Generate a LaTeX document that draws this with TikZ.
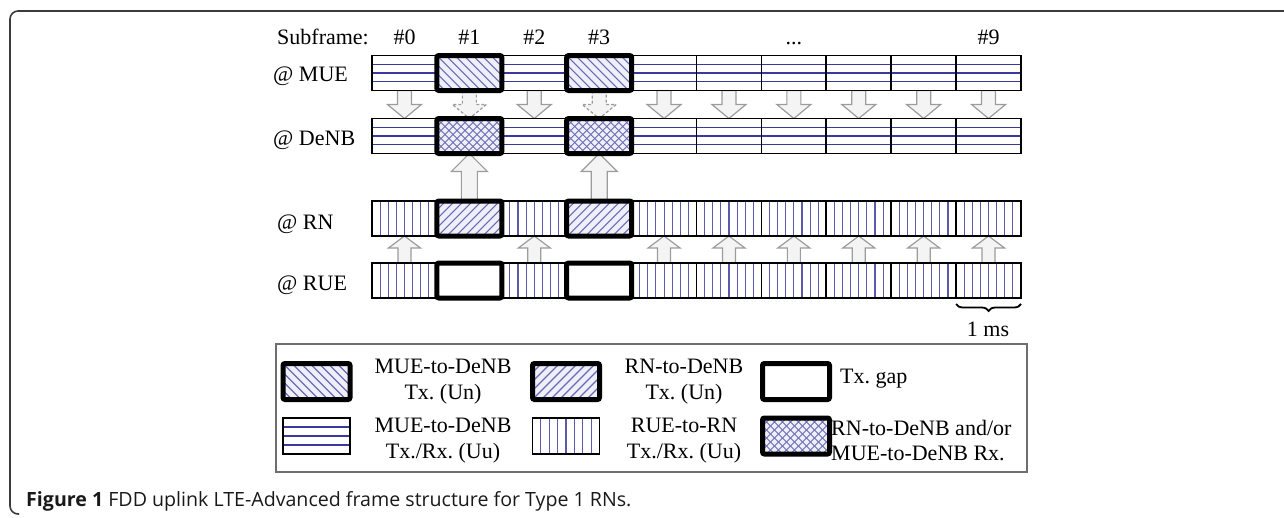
\documentclass[tikz,border=0pt]{standalone}
\usepackage{fontspec}
\setmainfont{Liberation Serif}
\newfontfamily\capfont{Open Sans}
\usetikzlibrary{calc,decorations.pathreplacing}
\frenchspacing
\pgfdeclarelayer{background}
\pgfsetlayers{background,main}
\definecolor{hatchc}{HTML}{6A6AB4}
\definecolor{linec}{HTML}{3A3A9E}
\definecolor{vlinec}{HTML}{5A5AAE}
\definecolor{hbg}{HTML}{EEEFF8}
\definecolor{arrfill}{HTML}{F4F4F4}
\definecolor{arrline}{HTML}{9C9C9C}
\definecolor{framec}{HTML}{3C3C3C}
\definecolor{legc}{HTML}{6E6E6E}
\tikzset{
  pl/.style={line width=1.1pt},
  lbl/.style={font=\fontsize{22}{25.5}\selectfont, inner sep=0pt},
  lgtext/.style={lbl, align=center},
  cellbox/.style={draw=black, line width=1.8pt, minimum width=64.9pt, minimum height=35pt, inner sep=0pt, outer sep=0pt},
  boldbox/.style={draw=black, line width=5pt, rounded corners=2pt, minimum width=64.9pt, minimum height=35pt, inner sep=0pt, outer sep=0pt},
  hpat/.style={fill=white, path picture={\foreach \fr in {0.25,0.5,0.75}{\draw[pl,linec] ($(path picture bounding box.north west)!\fr!(path picture bounding box.south west)$) -- ($(path picture bounding box.north east)!\fr!(path picture bounding box.south east)$);}}},
  vpat/.style={fill=white, path picture={\foreach \fr in {0.125,0.25,0.375,0.5,0.625,0.75,0.875}{\draw[pl,vlinec] ($(path picture bounding box.north west)!\fr!(path picture bounding box.north east)$) -- ($(path picture bounding box.south west)!\fr!(path picture bounding box.south east)$);}}},
  nwpat/.style={fill=hbg, path picture={\foreach \k in {-6,...,14}{\draw[pl,hatchc] ($(path picture bounding box.north west)+(\k*9,0)$) -- ++(45,45);}}},
  nepat/.style={fill=hbg, path picture={\foreach \k in {-6,...,14}{\draw[pl,hatchc] ($(path picture bounding box.north west)+(\k*9,0)$) -- ++(-45,45);}}},
  xpat/.style={fill=hbg, path picture={\foreach \k in {-7,...,16}{\draw[line width=0.9pt,hatchc] ($(path picture bounding box.north west)+(\k*8,0)$) -- ++(45,45); \draw[line width=0.9pt,hatchc] ($(path picture bounding box.north west)+(\k*8,0)$) -- ++(-45,45);}}},
  barrow/.style={fill=arrfill, draw=arrline, line width=1.2pt},
  barrowd/.style={barrow, dash pattern=on 3pt off 2pt},
}
% down block arrow: style, from, to, shaft half width, head half width, head length
\newcommand\blkdown[6]{\draw[#1] let \p1=(#2), \p2=(#3) in (\x1-#4pt,\y1) -- (\x1-#4pt,\y2+#6pt) -- (\x1-#5pt,\y2+#6pt) -- (\x1,\y2) -- (\x1+#5pt,\y2+#6pt) -- (\x1+#4pt,\y2+#6pt) -- (\x1+#4pt,\y1) -- cycle;}
\newcommand\blkup[6]{\draw[#1] let \p1=(#2), \p2=(#3) in (\x1-#4pt,\y1) -- (\x1-#4pt,\y2-#6pt) -- (\x1-#5pt,\y2-#6pt) -- (\x1,\y2) -- (\x1+#5pt,\y2-#6pt) -- (\x1+#4pt,\y2-#6pt) -- (\x1+#4pt,\y1) -- cycle;}
\begin{document}
\begin{tikzpicture}[x=1pt,y=-1pt]
\useasboundingbox (0,0) rectangle (1284,517);
% outer frame
\draw[framec, line width=1.6pt, rounded corners=8pt] (1284,11) -- (10,11) -- (10,514) -- (19,514);
% header labels
\node[lbl, anchor=base west] (sf) at (277,44) {Subframe:};
\node[lbl, anchor=base] (h0) at (404.5,44) {\#0};
\node[lbl, anchor=base] (h1) at (469.4,44) {\#1};
\node[lbl, anchor=base] (h2) at (534.3,44) {\#2};
\node[lbl, anchor=base] (h3) at (599.2,44) {\#3};
\node[lbl, anchor=base] (hd) at (793.9,44) {...};
\node[lbl, anchor=base] (h9) at (988.6,44) {\#9};
% row labels
\node[lbl, anchor=base west] (lm) at (273,81) {@ MUE};
\node[lbl, anchor=base west] (ld) at (273,145) {@ DeNB};
\node[lbl, anchor=base west] (lr) at (277,229) {@ RN};
\node[lbl, anchor=base west] (lu) at (277,290) {@ RUE};
% cells
\foreach \i in {0,2,4,5,6,7,8,9}{
  \node[cellbox,hpat] (m\i) at ({372+64.9*(\i+0.5)},73) {};
  \node[cellbox,hpat] (d\i) at ({372+64.9*(\i+0.5)},136) {};
  \node[cellbox,vpat] (r\i) at ({372+64.9*(\i+0.5)},218.5) {};
  \node[cellbox,vpat] (u\i) at ({372+64.9*(\i+0.5)},280.5) {};
}
\foreach \i in {1,3}{
  \node[boldbox,nwpat] (m\i) at ({372+64.9*(\i+0.5)},73) {};
  \node[boldbox,xpat] (d\i) at ({372+64.9*(\i+0.5)},136) {};
  \node[boldbox,nepat] (r\i) at ({372+64.9*(\i+0.5)},218.5) {};
  \node[boldbox,fill=white] (u\i) at ({372+64.9*(\i+0.5)},280.5) {};
}
% block arrows
\begin{pgfonlayer}{background}
\foreach \i in {0,2,4,5,6,7,8,9}{
  \blkdown{barrow}{m\i.south}{d\i.north}{7}{17}{14}
  \blkup{barrow}{u\i.north}{r\i.south}{6.5}{16}{12}
}
\foreach \i in {1,3}{
  \blkdown{barrowd}{m\i.south}{d\i.north}{7}{17}{14}
  \blkup{barrow}{r\i.north}{d\i.south}{8}{18}{18}
}
\end{pgfonlayer}
% brace
\coordinate (b1) at ($(u9.south west)+(0,6)$);
\coordinate (b2) at ($(u9.south east)+(0,6)$);
\draw[decorate, decoration={brace,mirror,amplitude=7pt}, line width=1.8pt] (b1) -- (b2);
\node[lbl, anchor=base] (ms) at (988,336) {1 ms};
% legend
\node[draw=legc, line width=2.6pt, minimum width=751pt, minimum height=128pt, inner sep=0pt] (leg) at (651.5,408) {};
\node[boldbox,nwpat,minimum width=67pt,minimum height=36pt] (lg1) at (316.5,381.5) {};
\node[boldbox,nepat,minimum width=67pt,minimum height=36pt] (lg2) at (566,381.5) {};
\node[boldbox,fill=white,minimum width=67pt,minimum height=36pt] (lg3) at (796,381.5) {};
\node[cellbox,hpat,minimum width=67pt,minimum height=36pt] (lg4) at (316.5,436) {};
\node[cellbox,vpat,minimum width=67pt,minimum height=36pt] (lg5) at (566,436) {};
\node[boldbox,xpat,minimum width=67pt,minimum height=36pt] (lg6) at (796,436) {};
\node[lgtext] (t1) at (443,381.5) {MUE-to-DeNB\\Tx. (Un)};
\node[lgtext] (t2) at (684,381.5) {RN-to-DeNB\\Tx. (Un)};
\node[lbl, anchor=west] (t3) at (840,379) {Tx. gap};
\node[lgtext] (t4) at (443,440.5) {MUE-to-DeNB\\Tx./Rx. (Uu)};
\node[lgtext] (t5) at (684,440.5) {RUE-to-RN\\Tx./Rx. (Uu)};
\node[lbl, align=left, anchor=west] (t6) at (831,440.5) {RN-to-DeNB and/or\\MUE-to-DeNB Rx.};
% caption
\node[anchor=base west, inner sep=0pt, font=\capfont\fontsize{19.6}{22}\selectfont, text=black!90] (cap) at (26,506) {\textbf{Figure 1} FDD uplink LTE-Advanced frame structure for Type 1 RNs.};
\end{tikzpicture}
\end{document}
